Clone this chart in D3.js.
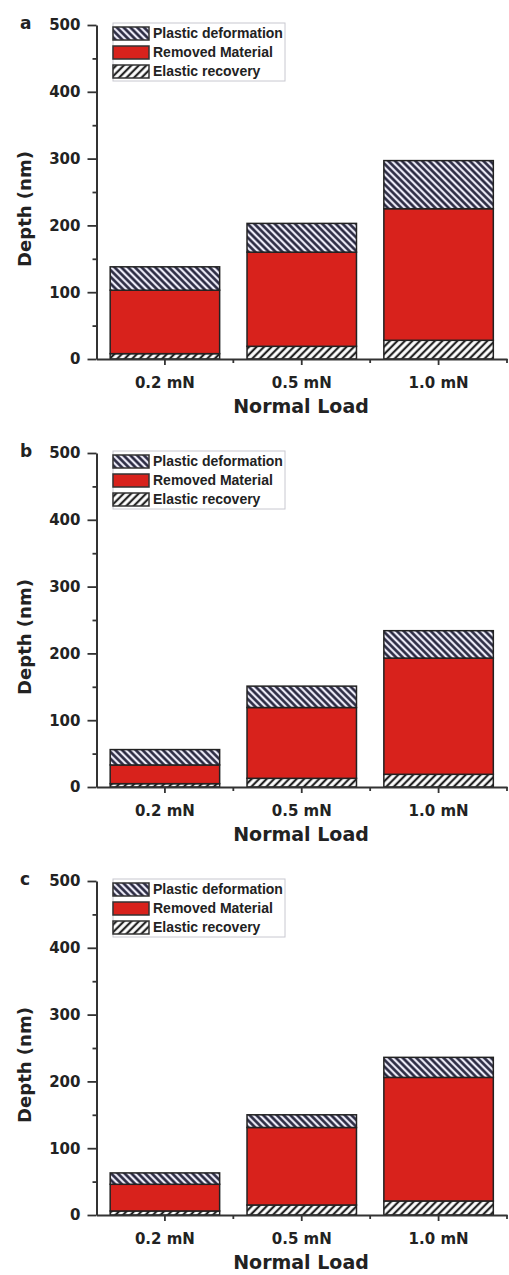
<!DOCTYPE html>
<html>
<head>
<meta charset="utf-8">
<script src="https://cdn.jsdelivr.net/npm/d3@7"></script>
<style>
  body { margin: 0; background: #fff; }
  svg { display: block; }
</style>
</head>
<body>
<script>
// Scratch depth components, three samples (a, b, c)
const loads = ["0.2 mN", "0.5 mN", "1.0 mN"];
const seriesNames = ["Plastic deformation", "Removed Material", "Elastic recovery"];
const yTicks = [0, 100, 200, 300, 400, 500];
const yMinorTicks = [50, 150, 250, 350, 450];

const elasticA = [8, 19, 28];
const removedA = [95, 141, 197];
const plasticA = [35, 43, 72];

const elasticB = [5, 13, 19];
const removedB = [28, 106, 174];
const plasticB = [23, 32, 41];

const elasticC = [6, 15, 21];
const removedC = [40, 116, 185];
const plasticC = [17, 19, 30];

const width = 509;
const height = 1275;
const axisColor = "#333";
const red = "#d8221c";
const tickFont = "'DejaVu Sans', Arial, sans-serif";

const svg = d3.select("body").append("svg")
    .attr("width", width)
    .attr("height", height);

const defs = svg.append("defs");

// plastic: "\\\" navy lines on pale lavender
const pPlastic = defs.append("pattern")
    .attr("id", "plastic")
    .attr("patternUnits", "userSpaceOnUse")
    .attr("width", 4.8)
    .attr("height", 4.8)
    .attr("patternTransform", "rotate(-45)");
pPlastic.append("rect").attr("width", 4.8).attr("height", 4.8).attr("fill", "#ecebf7");
pPlastic.append("line")
    .attr("x1", 2.4).attr("x2", 2.4).attr("y1", 0).attr("y2", 4.8)
    .attr("stroke", "#22223a").attr("stroke-width", 2.5);

// elastic: "///" black lines on white
const pElastic = defs.append("pattern")
    .attr("id", "elastic")
    .attr("patternUnits", "userSpaceOnUse")
    .attr("width", 5.3)
    .attr("height", 5.3)
    .attr("patternTransform", "rotate(45)");
pElastic.append("rect").attr("width", 5.3).attr("height", 5.3).attr("fill", "#fff");
pElastic.append("line")
    .attr("x1", 2.65).attr("x2", 2.65).attr("y1", 0).attr("y2", 5.3)
    .attr("stroke", "#222").attr("stroke-width", 2.2);

const fills = { elastic: "url(#elastic)", removed: red, plastic: "url(#plastic)" };
const legendKeys = ["plastic", "removed", "elastic"];

function drawPanel(top, letter, elastic, removed, plastic) {
    const g = svg.append("g");

    const y = d3.scaleLinear()
        .domain([0, 500])
        .range([top + 334, top]);

    const x = d3.scaleBand()
        .domain(loads)
        .range([96.5, 507])
        .paddingInner(0.2)
        .paddingOuter(0.1);

    const rows = loads.map((l, i) => ({
        load: l, elastic: elastic[i], removed: removed[i], plastic: plastic[i]
    }));
    const stacked = d3.stack().keys(["elastic", "removed", "plastic"])(rows);

    // bars
    stacked.forEach(layer => {
        g.append("g")
            .selectAll("rect")
            .data(layer)
            .enter()
            .append("rect")
            .attr("x", d => x(d.data.load))
            .attr("width", x.bandwidth())
            .attr("y", d => y(d[1]))
            .attr("height", d => y(d[0]) - y(d[1]))
            .attr("fill", fills[layer.key])
            .attr("stroke", "#222")
            .attr("stroke-width", 1.5);
    });

    // y axis
    const yAxis = g.append("g")
        .attr("transform", "translate(96.5,0)")
        .call(d3.axisLeft(y).tickValues(yTicks).tickSize(9).tickSizeOuter(0).tickPadding(7));
    g.append("g")
        .attr("transform", "translate(96.5,0)")
        .call(d3.axisLeft(y).tickValues(yMinorTicks).tickSize(4).tickSizeOuter(0).tickFormat(""))
        .select(".domain").remove();

    // x axis
    const xAxis = g.append("g")
        .attr("transform", `translate(0,${y(0)})`)
        .call(d3.axisBottom(x).tickSize(6).tickSizeOuter(0).tickPadding(12));
    const bounds = loads.map(d => x(d) + x.bandwidth() + x.step() * x.paddingInner() / 2);
    g.append("g")
        .selectAll("line")
        .data(bounds)
        .enter()
        .append("line")
        .attr("x1", d => d).attr("x2", d => d)
        .attr("y1", y(0)).attr("y2", y(0) + 4)
        .attr("stroke", axisColor)
        .attr("stroke-width", 1.8);

    [yAxis, xAxis].forEach(a => {
        a.select(".domain").attr("stroke", axisColor).attr("stroke-width", 2);
        a.selectAll(".tick text")
            .attr("fill", "#222")
            .style("font-family", tickFont)
            .style("font-size", "15px")
            .style("font-weight", "bold");
    });
    g.selectAll(".tick line").attr("stroke", axisColor).attr("stroke-width", 1.8);

    // axis titles
    g.append("text")
        .attr("transform", `translate(31,${y(0) - 150}) rotate(-90)`)
        .attr("text-anchor", "middle")
        .style("font-family", tickFont)
        .style("font-size", "18px")
        .style("font-weight", "bold")
        .attr("fill", "#222")
        .text("Depth (nm)");

    g.append("text")
        .attr("x", 301)
        .attr("y", y(0) + 54)
        .attr("text-anchor", "middle")
        .style("font-family", tickFont)
        .style("font-size", "19px")
        .style("font-weight", "bold")
        .attr("fill", "#222")
        .text("Normal Load");

    // panel letter
    g.append("text")
        .attr("x", 20)
        .attr("y", top + 4)
        .style("font-family", tickFont)
        .style("font-size", "17px")
        .style("font-weight", "bold")
        .attr("fill", "#222")
        .text(letter);

    // legend
    const legend = g.append("g")
        .attr("transform", `translate(113,${top - 2})`);
    legend.append("rect")
        .attr("width", 172)
        .attr("height", 58)
        .attr("fill", "#fff")
        .attr("stroke", "#c8c8d0")
        .attr("stroke-width", 1);
    legendKeys.forEach((k, i) => {
        const row = legend.append("g")
            .attr("transform", `translate(0,${4 + i * 19})`);
        row.append("rect")
            .attr("width", 36)
            .attr("height", 13)
            .attr("fill", fills[k])
            .attr("stroke", "#333")
            .attr("stroke-width", 1.5);
        row.append("text")
            .attr("x", 40)
            .attr("y", 6.5)
            .attr("dy", "0.35em")
            .style("font-family", "Arial, 'Liberation Sans', sans-serif")
            .style("font-size", "14px")
            .style("font-weight", "bold")
            .attr("fill", "#222")
            .text(seriesNames[i]);
    });
}

drawPanel(25, "a", elasticA, removedA, plasticA);
drawPanel(453, "b", elasticB, removedB, plasticB);
drawPanel(881, "c", elasticC, removedC, plasticC);
</script>
</body>
</html>
